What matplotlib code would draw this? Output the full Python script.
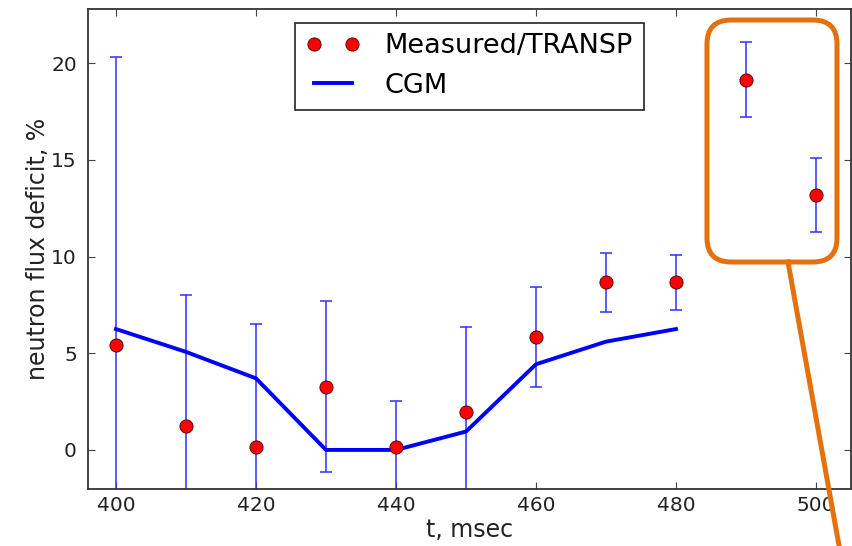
import matplotlib
matplotlib.use("Agg")
import matplotlib.pyplot as plt
from matplotlib.patches import FancyBboxPatch
from matplotlib.lines import Line2D
from matplotlib.transforms import IdentityTransform

# measured / TRANSP points with error bars
t_meas = [400, 410, 420, 430, 440, 450, 460, 470, 480, 490, 500]
deficit = [5.42, 1.26, 0.14, 3.27, 0.14, 1.98, 5.86, 8.66, 8.66, 19.15, 13.18]
err = [14.9, 6.74, 6.39, 4.41, 2.39, 4.39, 2.59, 1.54, 1.41, 1.93, 1.9]

# CGM model curve
t_cgm = [400, 410, 420, 430, 440, 450, 460, 470, 480]
cgm = [6.25, 5.07, 3.70, 0.0, 0.0, 0.95, 4.43, 5.6, 6.25]

xticks = [400, 420, 440, 460, 480, 500]
yticks = [0, 5, 10, 15, 20]

fig = plt.figure(figsize=(8.52, 5.46), dpi=100)
ax = fig.add_axes([0.1033, 0.1044, 0.8955, 0.8791])

ax.errorbar(t_meas, deficit, yerr=err, fmt="none", ecolor="#3333ff",
            elinewidth=1.4, capsize=4, capthick=1.4, alpha=0.8, zorder=2)
ax.plot(t_cgm, cgm, color="#0000ff", lw=2.8, label="CGM", zorder=3)
ax.plot(t_meas, deficit, "o", color="#ff0000", markeredgecolor="#400000",
        markeredgewidth=0.6, markersize=9.5, label="Measured/TRANSP", zorder=4)

ax.set_xlim(396, 505)
ax.set_ylim(-2.02, 22.8)
ax.set_xticks(xticks)
ax.set_yticks(yticks)
ax.tick_params(direction="in", top=True, right=True, labelsize=14.5,
               length=5, width=0.8, colors="#444444", labelcolor="#222222")
ax.tick_params(axis="x", pad=5)
ax.tick_params(axis="y", pad=8)
for s in ax.spines.values():
    s.set_color("#333333")
    s.set_linewidth(1.3)

ax.set_xlabel("t, msec", fontsize=17, color="#222222")
ax.xaxis.set_label_coords(0.50, -0.06)
ax.set_ylabel("neutron flux deficit, %", fontsize=17, color="#222222", labelpad=1)

h, l = ax.get_legend_handles_labels()
leg = ax.legend(h[::-1], l[::-1], loc="upper center", numpoints=2, fontsize=19.5,
                fancybox=False, framealpha=1, edgecolor="#222222",
                handlelength=2.0, handletextpad=0.9, borderaxespad=0.5)
leg.get_frame().set_linewidth(1.2)

# orange callout box drawn on top of the figure (pixel coordinates, origin bottom-left)
orange = "#e5700e"
box = FancyBboxPatch((707, 546 - 262), 130, 242,
                     boxstyle="round,pad=0,rounding_size=24",
                     transform=IdentityTransform(), fill=False,
                     edgecolor=orange, linewidth=3.6, zorder=10)
fig.add_artist(box)
fig.add_artist(Line2D([788, 840], [546 - 262, -5], transform=IdentityTransform(),
                      color=orange, linewidth=3.6, zorder=10))

fig.savefig("out.png", dpi=100)
